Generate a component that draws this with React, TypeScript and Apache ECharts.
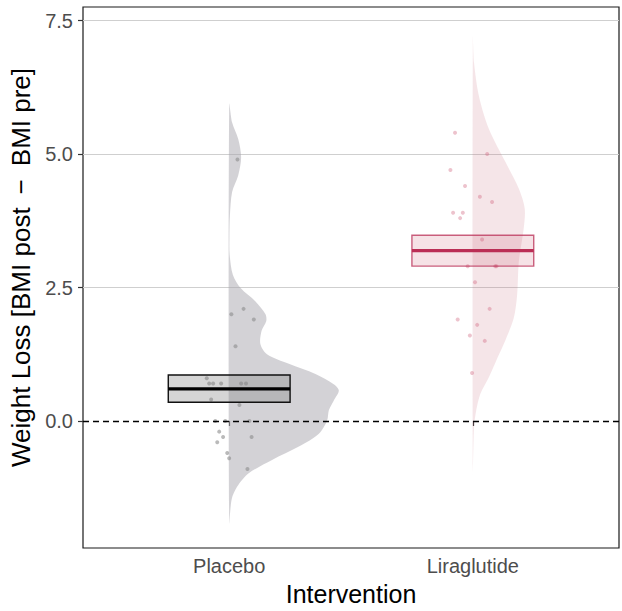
import React, { useEffect, useRef } from "react";
import * as echarts from "echarts";

// ---- data ----
const categories = ["Placebo", "Liraglutide"];
const categoryPositions = [1, 2];

// jittered raw points (x offset from category centre, weight loss value)
const placeboJitter = [0.034, 0.059, 0.009, 0.101, 0.026, -0.092, -0.082, -0.066, -0.033, 0.049, 0.069, -0.074, 0.042, -0.057, -0.016, 0.083, -0.041, -0.025, 0.092, -0.049, -0.008, 0.0, 0.075];
const placeboValues = [4.9, 2.1, 2.0, 1.9, 1.4, 0.8, 0.7, 0.7, 0.7, 0.7, 0.7, 0.4, 0.3, 0.0, 0.0, 0.0, -0.2, -0.3, -0.3, -0.4, -0.6, -0.7, -0.9];

const liraJitter = [-0.073, 0.059, -0.092, -0.032, 0.029, 0.079, -0.081, -0.041, -0.052, 0.038, -0.021, 0.092, 0.097, 0.009, 0.069, -0.062, 0.018, -0.012, 0.049, -0.003];
const liraValues = [5.4, 5.0, 4.7, 4.4, 4.2, 4.1, 3.9, 3.9, 3.8, 3.4, 2.9, 2.9, 2.9, 2.6, 2.1, 1.9, 1.8, 1.6, 1.5, 0.9];

// half-violin density outlines (y value, half width in x units), bottom -> top
const placeboDensityY = [-1.91, -1.47, -1.23, -0.98, -0.73, -0.48, -0.24, 0.01, 0.2, 0.38, 0.57, 0.69, 0.88, 1.07, 1.25, 1.44, 1.69, 1.87, 2.0, 2.24, 2.49, 2.74, 3.11, 3.42, 3.85, 4.29, 4.6, 4.94, 5.28, 5.59, 5.93];
const placeboDensityW = [0, 0.01, 0.033, 0.08, 0.176, 0.286, 0.368, 0.402, 0.409, 0.429, 0.45, 0.429, 0.354, 0.245, 0.155, 0.128, 0.133, 0.152, 0.149, 0.108, 0.047, 0.015, 0.002, 0.001, 0.003, 0.012, 0.037, 0.049, 0.037, 0.012, 0];
const liraDensityY = [-0.98, -0.11, 0.2, 0.51, 0.82, 1.13, 1.44, 1.93, 2.37, 2.99, 3.61, 3.98, 4.35, 4.85, 5.47, 6.09, 6.71, 7.2];
const liraDensityW = [0, 0.005, 0.014, 0.031, 0.066, 0.096, 0.127, 0.168, 0.182, 0.189, 0.209, 0.213, 0.189, 0.134, 0.066, 0.025, 0.005, 0];

// crossbar (mean +/- se)
const boxLow = [0.35, 2.9];
const boxMean = [0.6, 3.19];
const boxHigh = [0.86, 3.48];

// axis ticks
const yTicks = [0, 2.5, 5, 7.5];
const gridValues = [2.5, 5, 7.5];

const FONT = "'Liberation Sans', Arial, Helvetica, sans-serif";

export default function App() {
  const ref = useRef<HTMLDivElement>(null);

  useEffect(() => {
    document.body.style.margin = "0";
    if (!ref.current) return;
    const chart = echarts.init(ref.current, undefined, { renderer: "svg" });

    const densY = [placeboDensityY, liraDensityY];
    const densW = [placeboDensityW, liraDensityW];
    const violinFill = ["rgba(168,166,173,0.5)", "rgba(200,110,125,0.18)"];
    const pointColor = ["rgba(140,140,140,0.75)", "rgba(210,105,130,0.5)"];
    const boxFill = ["rgba(128,128,128,0.33)", "rgba(190,50,80,0.14)"];
    const boxStroke = ["#111111", "rgba(185,45,85,0.75)"];
    const medStroke = ["#000000", "#bb2e55"];

    const option: any = {
      animation: false,
      grid: {
        left: 83,
        right: 3,
        top: 7,
        bottom: 59,
        show: true,
        borderColor: "#1a1a1a",
        borderWidth: 1.2,
        backgroundColor: "#ffffff",
        containLabel: false,
      },
      xAxis: {
        type: "value",
        min: 0.4,
        max: 2.6,
        name: "Intervention",
        nameLocation: "middle",
        nameGap: 33,
        nameTextStyle: { fontSize: 25, color: "#000", fontFamily: FONT },
        axisLine: { show: false },
        splitLine: { show: false },
        axisTick: {
          show: true,
          customValues: categoryPositions,
          length: 5,
          lineStyle: { color: "#333", width: 1.2 },
        },
        axisLabel: {
          customValues: categoryPositions,
          formatter: (v: number) => categories[categoryPositions.indexOf(v)] ?? "",
          fontSize: 20,
          color: "#4d4d4d",
          fontFamily: FONT,
          margin: 8,
        },
      },
      yAxis: {
        type: "value",
        min: -2.38,
        max: 7.755,
        name: "Weight Loss [BMI post\u2002\u2212\u2002BMI pre]",
        nameLocation: "middle",
        nameGap: 46,
        nameTextStyle: { fontSize: 26, color: "#000", fontFamily: FONT, padding: [0, 0, 0, 20] },
        axisLine: { show: false },
        splitLine: { show: false },
        axisTick: {
          show: true,
          customValues: yTicks,
          length: 5,
          lineStyle: { color: "#333", width: 1.2 },
        },
        axisLabel: {
          customValues: yTicks,
          formatter: (v: number) => v.toFixed(1),
          fontSize: 20,
          color: "#4d4d4d",
          fontFamily: FONT,
          margin: 10,
        },
      },
      series: [
        {
          type: "line",
          name: "grid",
          data: [[0.4, -2.38]],
          symbol: "none",
          lineStyle: { opacity: 0 },
          silent: true,
          z: 0,
          markLine: {
            z: 0,
            silent: true,
            symbol: "none",
            label: { show: false },
            lineStyle: { color: "#cfcfcf", width: 1, type: "solid" },
            data: gridValues.map((v) => ({ yAxis: v })),
          },
        },
        {
          type: "custom",
          name: "violin",
          z: 1,
          data: categoryPositions.map((p) => [p, 0]),
          renderItem: (params: any, api: any) => {
            const i = params.dataIndex;
            const base = categoryPositions[i];
            const ys = densY[i];
            const ws = densW[i];
            const pts = ys.map((y, k) => api.coord([base + ws[k], y]));
            return {
              type: "polygon",
              shape: { points: pts, smooth: 0.3 },
              style: { fill: violinFill[i], stroke: "none" },
            };
          },
        },
        {
          type: "scatter",
          name: "Placebo points",
          z: 2,
          symbolSize: 4,
          itemStyle: { color: pointColor[0] },
          data: placeboValues.map((v, k) => [categoryPositions[0] + placeboJitter[k], v]),
        },
        {
          type: "scatter",
          name: "Liraglutide points",
          z: 2,
          symbolSize: 4,
          itemStyle: { color: pointColor[1] },
          data: liraValues.map((v, k) => [categoryPositions[1] + liraJitter[k], v]),
        },
        {
          type: "custom",
          name: "crossbar",
          z: 3,
          data: categoryPositions.map((p, i) => [p, boxLow[i], boxMean[i], boxHigh[i]]),
          encode: { x: 0, y: [1, 2, 3] },
          renderItem: (params: any, api: any) => {
            const i = params.dataIndex;
            const x = api.value(0);
            const lo = api.value(1);
            const mid = api.value(2);
            const hi = api.value(3);
            const p1 = api.coord([x - 0.25, hi]);
            const p2 = api.coord([x + 0.25, lo]);
            const m1 = api.coord([x - 0.25, mid]);
            const m2 = api.coord([x + 0.25, mid]);
            return {
              type: "group",
              children: [
                {
                  type: "rect",
                  shape: { x: p1[0], y: p1[1], width: p2[0] - p1[0], height: p2[1] - p1[1] },
                  style: { fill: boxFill[i], stroke: boxStroke[i], lineWidth: 1.4 },
                },
                {
                  type: "line",
                  shape: { x1: m1[0], y1: m1[1], x2: m2[0], y2: m2[1] },
                  style: { stroke: medStroke[i], lineWidth: 3.2 },
                },
              ],
            };
          },
        },
        {
          type: "line",
          name: "zero",
          data: [[0.4, -2.38]],
          symbol: "none",
          lineStyle: { opacity: 0 },
          silent: true,
          z: 4,
          markLine: {
            z: 10,
            silent: true,
            symbol: "none",
            label: { show: false },
            lineStyle: { color: "#000", width: 1.3, type: [6, 4] },
            data: [{ yAxis: 0 }],
          },
        },
      ],
    };

    chart.setOption(option);
    return () => chart.dispose();
  }, []);

  return <div ref={ref} style={{ width: 622, height: 611 }} />;
}
